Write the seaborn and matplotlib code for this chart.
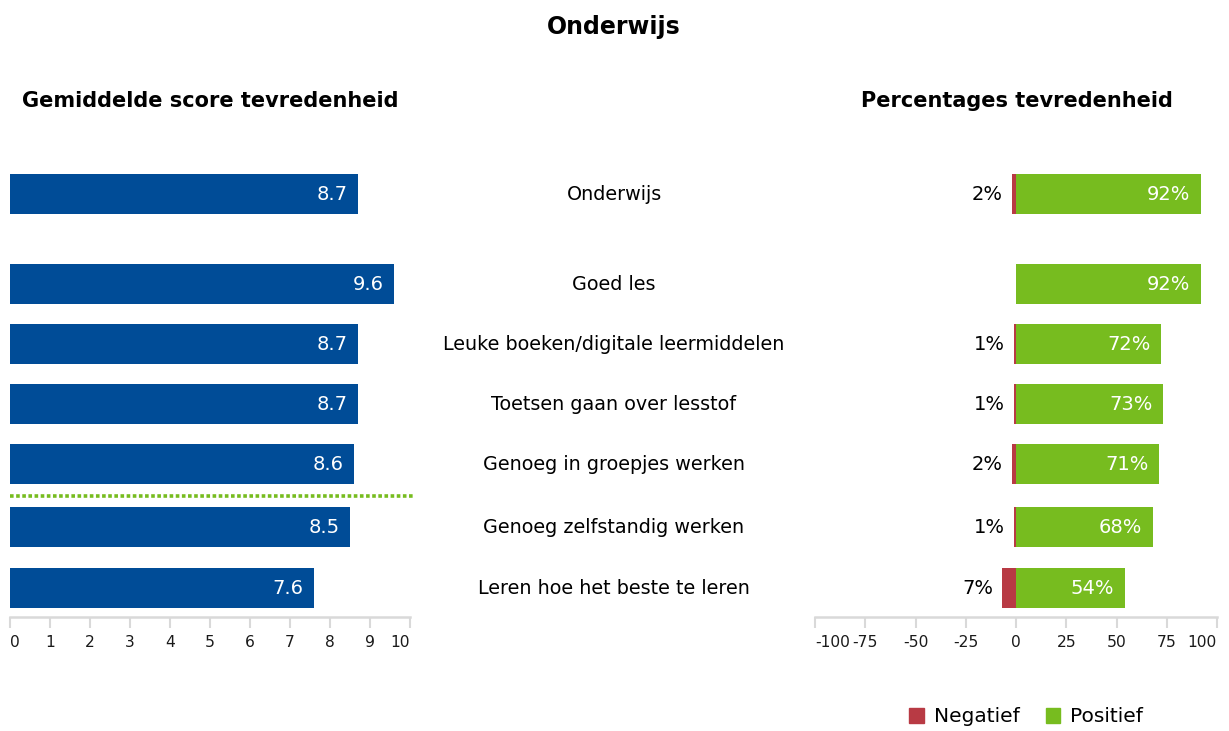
import pandas as pd
import seaborn as sns
import matplotlib.pyplot as plt
from matplotlib.patches import Patch
from matplotlib.transforms import blended_transform_factory

# data
categories = [
    "Onderwijs", "Goed les", "Leuke boeken/digitale leermiddelen",
    "Toetsen gaan over lesstof", "Genoeg in groepjes werken",
    "Genoeg zelfstandig werken", "Leren hoe het beste te leren",
]
scores = [8.7, 9.6, 8.7, 8.7, 8.6, 8.5, 7.6]
negatief = [2, 0, 1, 1, 2, 1, 7]
positief = [92, 92, 72, 73, 71, 68, 54]
score_ticks = list(range(0, 11))
pct_ticks = [-100, -75, -50, -25, 0, 25, 50, 75, 100]

# rijposities (eerste rij staat wat losser)
row_pos = [0, 1.5, 2.5, 3.5, 4.5, 5.55, 6.57]
sep_pos = 5.03

BLUE = "#004c97"
RED = "#b83a44"
GREEN = "#77bc1f"
GRAY = "#d9d9d9"

sns.set_style("white")
plt.rcParams['font.family'] = ['DejaVu Sans']
plt.rcParams['text.color'] = 'black'

df = pd.DataFrame({
    "categorie": categories,
    "rij": row_pos,
    "score": scores,
    "neg": [-v for v in negatief],
    "pos": positief,
})

fig = plt.figure(figsize=(12.29, 7.31), dpi=100)
W, H = 1229, 731
ax1 = fig.add_axes([10 / W, 114 / H, 400 / W, 457 / H])
ax2 = fig.add_axes([815 / W, 114 / H, 402 / W, 457 / H])

bar_kw = dict(orient="y", native_scale=True, saturation=1, width=0.675,
              errorbar=None, linewidth=0, edgecolor="none")

# links: gemiddelde score
sns.barplot(data=df, x="score", y="rij", color=BLUE, ax=ax1, **bar_kw)
for s, r in zip(scores, row_pos):
    ax1.annotate(f"{s:.1f}", (s, r), xytext=(-7.5, 0), textcoords="offset points",
                 ha="right", va="center", color="white", fontsize=14)
ax1.axhline(sep_pos, xmin=0, xmax=1.008, color=GREEN, lw=2.6,
            linestyle=(0, (1, 0.7)), clip_on=False)
ax1.set_xlim(0, 10)

# rechts: percentages
sns.barplot(data=df, x="neg", y="rij", color=RED, ax=ax2, **bar_kw)
sns.barplot(data=df, x="pos", y="rij", color=GREEN, ax=ax2, **bar_kw)
for n, p, r in zip(negatief, positief, row_pos):
    ax2.annotate(f"{p}%", (p, r), xytext=(-7.5, 0), textcoords="offset points",
                 ha="right", va="center", color="white", fontsize=14)
    if n > 0:
        ax2.annotate(f"{n}%", (-n, r), xytext=(-6.5, 0), textcoords="offset points",
                     ha="right", va="center", color="black", fontsize=14)
ax2.set_xlim(-100, 100)

for ax, ticks in [(ax1, score_ticks), (ax2, pct_ticks)]:
    ax.set_ylim(7.05, -0.567)
    ax.set_yticks([])
    ax.set_xlabel("")
    ax.set_ylabel("")
    for side in ["left", "top", "right"]:
        ax.spines[side].set_visible(False)
    ax.spines["bottom"].set_color(GRAY)
    ax.spines["bottom"].set_linewidth(1.8)
    ax.set_xticks(ticks, [str(t) for t in ticks])
    ax.tick_params(axis="x", bottom=True, direction="out", length=8, width=1.5,
                   color=GRAY, labelcolor="#1a1a1a", labelsize=11.2, pad=5)
    lbls = ax.get_xticklabels()
    lbls[0].set_ha("left")
    lbls[-1].set_ha("right")

# categorienamen in het midden
trans = blended_transform_factory(fig.transFigure, ax1.transData)
for c, r in zip(categories, row_pos):
    ax1.text(614 / W, r, c, transform=trans, ha="center", va="center",
             fontsize=13.8, color="black")

# titels
fig.text(614 / W, 1 - 27 / H, "Onderwijs", ha="center", va="center",
         fontsize=17, fontweight="bold", color="black")
fig.text(210 / W, 1 - 101 / H, "Gemiddelde score tevredenheid", ha="center",
         va="center", fontsize=15, fontweight="bold", color="black")
fig.text(1017 / W, 1 - 101 / H, "Percentages tevredenheid", ha="center",
         va="center", fontsize=15, fontweight="bold", color="black")

handles = [Patch(color=RED), Patch(color=GREEN)]
leg = fig.legend(handles, ["Negatief", "Positief"], loc="center",
                 bbox_to_anchor=(1026 / W, 14 / H), ncol=2, frameon=False,
                 fontsize=14.5, handlelength=0.7, handleheight=0.7,
                 handletextpad=0.5, columnspacing=1.3)
for t in leg.get_texts():
    t.set_color("black")

fig.savefig("out.png", dpi=100)
